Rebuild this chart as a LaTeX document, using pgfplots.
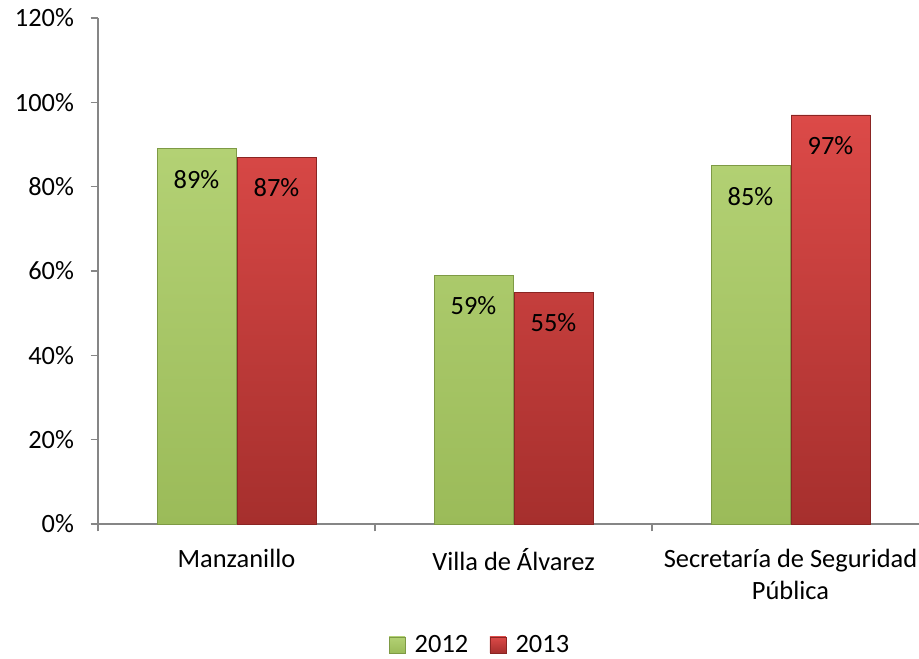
\documentclass[border=0pt]{standalone}
\usepackage{pgfplots}
\pgfplotsset{compat=1.18}
\usepackage{fontspec}
\setmainfont{Carlito}

\definecolor{axisgray}{HTML}{868686}
\definecolor{gtop}{HTML}{B3D174}
\definecolor{gbot}{HTML}{9BBB59}
\definecolor{gline}{HTML}{7E9A45}
\definecolor{rtop}{HTML}{DC4A48}
\definecolor{rbot}{HTML}{A62F2D}
\definecolor{rline}{HTML}{8A2523}

\newcommand{\chartfont}{\fontsize{19.8}{24}\selectfont}

\begin{document}
\begin{tikzpicture}
\begin{axis}[
    at={(73.5pt,100.5pt)}, anchor=south west,
    scale only axis,
    width=623.25pt, height=379.5pt,
    ybar=0.75pt, bar width=59.25pt,
    xmin=-0.5, xmax=2.5,
    ymin=0, ymax=120,
    axis x line*=bottom, axis y line*=left,
    axis line style={axisgray, line width=0.9pt},
    every tick/.style={draw=axisgray, line width=0.9pt},
    tick align=outside,
    major tick length=5.5pt,
    xtick={-0.5,0.5,1.5,2.5},
    xticklabels={},
    extra x ticks={0,1,2},
    extra x tick labels={Manzanillo, Villa de Álvarez, {Secretaría de Seguridad\\Pública}},
    extra x tick style={major tick length=0pt},
    xticklabel style={align=center, yshift=-15pt},
    ytick={0,20,40,60,80,100,120},
    yticklabels={0\%,20\%,40\%,60\%,80\%,100\%,120\%},
    ticklabel style={font=\chartfont, text=black},
    yticklabel style={xshift=-9pt},
    nodes near coords={\pgfmathprintnumber{\pgfplotspointmeta}\%},
    /pgf/number format/assume math mode=true,
    every node near coord/.append style={font=\chartfont, text=black, anchor=center, yshift=-23pt},
    legend columns=2,
    legend style={draw=none, fill=none, at={(0.46,-0.239)}, anchor=center,
        font=\chartfont, column sep=5pt,
        /tikz/every even column/.append style={column sep=14pt}},
    legend image code/.code={\path[#1] (0pt,-6pt) rectangle (12pt,6pt);},
]
\addplot[top color=gtop, bottom color=gbot, draw=gline, line width=0.5pt]
    coordinates {(0,89) (1,59) (2,85)};
\addplot[top color=rtop, bottom color=rbot, draw=rline, line width=0.5pt]
    coordinates {(0,87) (1,55) (2,97)};
\legend{2012, 2013}
\end{axis}
\pgfresetboundingbox
\useasboundingbox (0,0) rectangle (689.25pt,493.5pt);
\end{tikzpicture}
\end{document}
